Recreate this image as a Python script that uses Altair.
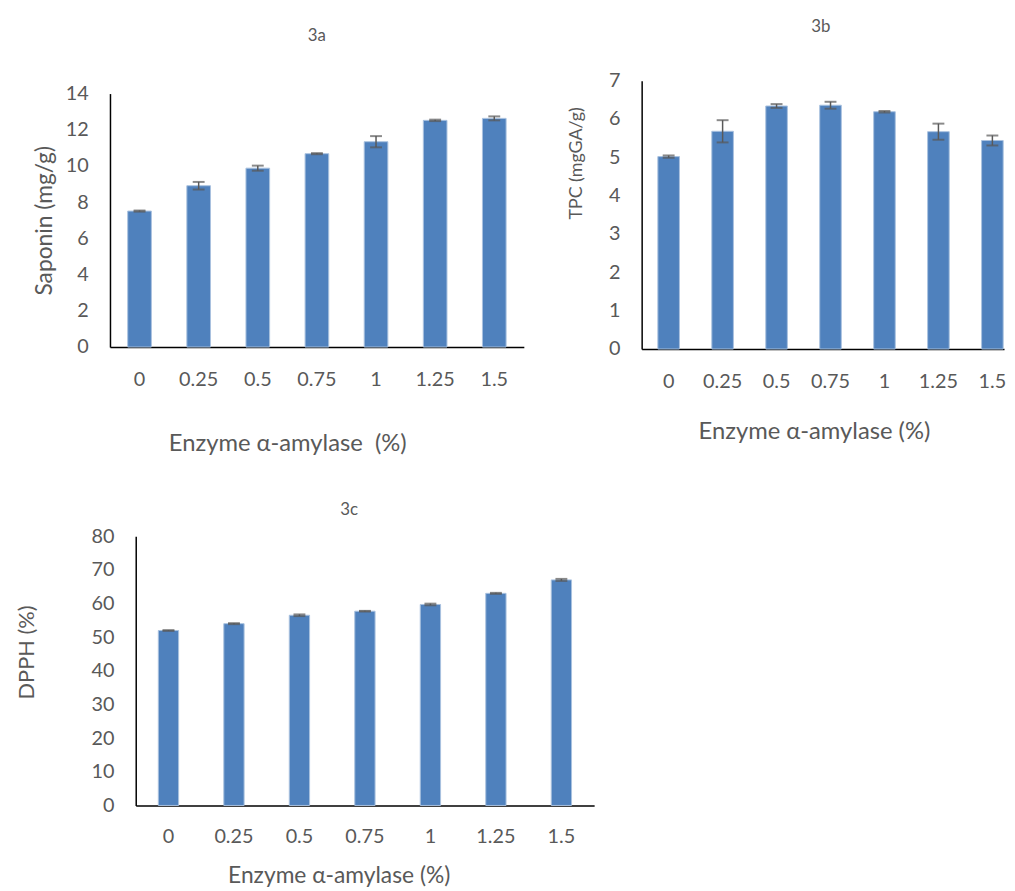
import altair as alt
import pandas as pd

# ---- data ----
conc = ["0", "0.25", "0.5", "0.75", "1", "1.25", "1.5"]

saponin_val = [7.51, 8.91, 9.88, 10.68, 11.34, 12.52, 12.63]
saponin_err = [0.03, 0.21, 0.14, 0.03, 0.31, 0.04, 0.11]

tpc_val = [5.02, 5.68, 6.34, 6.36, 6.19, 5.67, 5.44]
tpc_err = [0.03, 0.29, 0.05, 0.09, 0.02, 0.21, 0.13]

dpph_val = [51.97, 54.0, 56.5, 57.7, 59.7, 63.0, 67.0]
dpph_err = [0.1, 0.15, 0.25, 0.1, 0.25, 0.15, 0.3]

FONT = "Lato"
TXT = "#595959"
BAR = "#4F81BD"
ERR = "#595959"


def panel(vals, errs, ymax, ystep, width, height, xscale,
          ytitle, ytx, yty, xtitle, xtx, xty,
          title, title_offset, title_dx,
          label_size=20, ytitle_size=23, xtitle_size=22, xlab_pad=23):
    df = pd.DataFrame({"conc": conc, "value": vals, "err": errs})
    base = alt.Chart(df).transform_calculate(
        lo="datum.value - datum.err", hi="datum.value + datum.err"
    )
    xaxis = alt.Axis(
        title=xtitle, titleX=xtx, titleY=xty, titleAlign="center",
        titleBaseline="middle", titleFont=FONT, titleFontSize=xtitle_size,
        titleFontWeight="normal", titleColor=TXT,
        labelAngle=0, labelFont=FONT, labelFontSize=label_size, labelColor=TXT,
        labelPadding=xlab_pad, ticks=False, tickSize=0,
        domainColor="#000000", domainWidth=1.5, grid=False,
    )
    yaxis = alt.Axis(
        title=ytitle, titleX=ytx, titleY=yty, titleAngle=270,
        titleAlign="center", titleBaseline="middle", titleFont=FONT,
        titleFontSize=ytitle_size, titleFontWeight="normal", titleColor=TXT,
        values=list(range(0, ymax + 1, ystep)),
        labelFont=FONT, labelFontSize=label_size, labelColor=TXT,
        labelPadding=22, ticks=False, tickSize=0, labelOverlap=False,
        domainColor="#000000", domainWidth=1.5, grid=False,
    )
    x = alt.X("conc:N", sort=conc, scale=xscale, axis=xaxis)
    yscale = alt.Scale(domain=[0, ymax], nice=False, zero=True)

    bars = base.mark_bar(color=BAR, stroke="#a9c1df", strokeWidth=1).encode(
        x=x, y=alt.Y("value:Q", scale=yscale, axis=yaxis)
    )
    stem = base.mark_rule(color=ERR, strokeWidth=1.5).encode(
        x=x, y=alt.Y("lo:Q", scale=yscale, axis=yaxis), y2="hi:Q"
    )
    cap_lo = base.mark_tick(color=ERR, size=12, thickness=2).encode(
        x=x, y=alt.Y("lo:Q", scale=yscale, axis=yaxis)
    )
    cap_hi = base.mark_tick(color=ERR, size=12, thickness=2).encode(
        x=x, y=alt.Y("hi:Q", scale=yscale, axis=yaxis)
    )
    tparams = dict(text=title, fontSize=17, font=FONT, color=TXT,
                   fontWeight="normal", anchor="middle", offset=title_offset,
                   dx=title_dx)
    return alt.layer(bars, stem, cap_lo, cap_hi).properties(
        width=width, height=height, title=alt.TitleParams(**tparams)
    )


chart_a = panel(
    saponin_val, saponin_err, 14, 2, 418, 256,
    alt.Scale(paddingInner=0.6, paddingOuter=0.3),
    "Saponin (mg/g)", -66, 128,
    "Enzyme \u03b1-amylase\u00a0 (%)", 179, 98,
    "3a", 39.5, 0, xtitle_size=24,
)

chart_b = panel(
    tpc_val, tpc_err, 7, 1, 366, 271,
    alt.Scale(paddingInner=0.6, paddingOuter=0.158, align=0.95),
    "TPC (mgGA/g)", -66, 83,
    "Enzyme \u03b1-amylase (%)", 174, 83,
    "3b", 35.5, -2, ytitle_size=18, xtitle_size=24,
)

chart_c = panel(
    dpph_val, dpph_err, 80, 10, 463, 272,
    alt.Scale(paddingInner=0.69, paddingOuter=0.345),
    "DPPH (%)", -110, 117,
    "Enzyme \u03b1-amylase (%)", 205, 71,
    "3c", 7.5, -16, ytitle_size=22, xtitle_size=23, xlab_pad=21,
)


def spacer(w, h):
    return alt.Chart(pd.DataFrame({"s": [0]})).mark_rule(
        opacity=0, strokeWidth=0
    ).encode(x=alt.value(0), x2=alt.value(1), y=alt.value(0)).properties(
        width=w, height=h
    )


# invisible spacers fix where each panel's outer bounds begin
wrap_a = alt.concat(spacer(1, 12), chart_a, columns=1, spacing=0)
wrap_b = alt.concat(spacer(1, 3), chart_b, columns=1, spacing=0)
top_row = alt.concat(spacer(22.8, 1), wrap_a, spacer(39.7, 1), wrap_b,
                     columns=4, spacing=0)
bottom_row = alt.concat(spacer(5.3, 1), chart_c, columns=2, spacing=0)

chart = alt.concat(top_row, bottom_row, columns=1, spacing=44).properties(
    padding={"left": 0, "top": 0, "right": 0, "bottom": 0},
    background="white",
).configure_view(stroke="transparent")

chart.save("out.html", embed_options={"renderer": "svg", "actions": False})
